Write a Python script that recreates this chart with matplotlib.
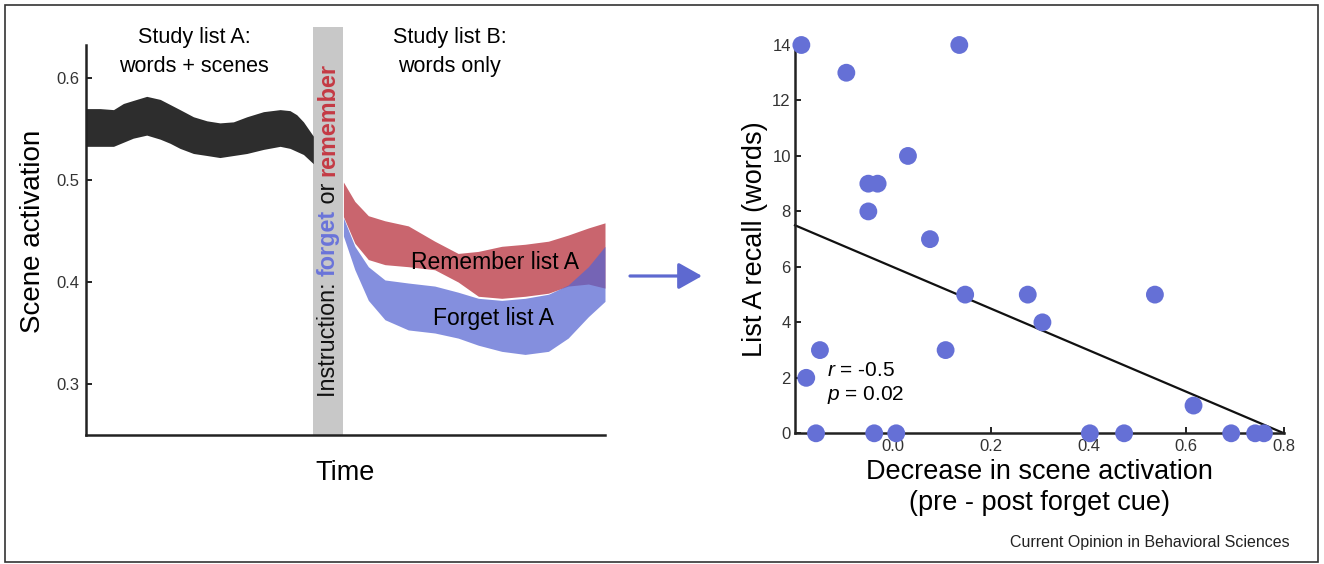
import matplotlib
matplotlib.use("Agg")
import matplotlib.pyplot as plt
from matplotlib.patches import Rectangle, FancyArrowPatch

plt.rcParams['font.family'] = ['Liberation Sans', 'DejaVu Sans']
plt.rcParams['mathtext.fontset'] = 'custom'
plt.rcParams['mathtext.it'] = 'Liberation Sans:italic'
plt.rcParams['mathtext.rm'] = 'Liberation Sans'

# ---------------- data: left panel (scene activation over time) ----------------
black_t = [0, 2.7, 5.3, 7.2, 9.1, 11.7, 14.3, 16.2, 18.1, 20.7, 23.3, 25.8, 28.4,
           31.0, 34.2, 37.4, 39.3, 40.6, 41.9, 43.8]
black_upper = [0.570, 0.570, 0.569, 0.575, 0.578, 0.582, 0.579, 0.574, 0.569, 0.562,
               0.558, 0.556, 0.557, 0.562, 0.567, 0.569, 0.568, 0.564, 0.557, 0.543]
black_lower = [0.533, 0.533, 0.533, 0.537, 0.541, 0.544, 0.540, 0.536, 0.531, 0.526,
               0.524, 0.522, 0.524, 0.526, 0.530, 0.533, 0.531, 0.528, 0.525, 0.516]

post_t = [49.6, 51.8, 54.4, 57.6, 62.1, 67.2, 71.7, 75.6, 80.1, 84.6, 89.1, 92.9, 96.8, 100]
remember_upper = [0.498, 0.479, 0.465, 0.460, 0.455, 0.440, 0.428, 0.430, 0.435, 0.437,
                  0.440, 0.446, 0.453, 0.458]
remember_lower = [0.464, 0.438, 0.422, 0.417, 0.415, 0.412, 0.400, 0.386, 0.384, 0.386,
                  0.389, 0.396, 0.398, 0.394]
forget_upper = [0.463, 0.435, 0.415, 0.402, 0.399, 0.396, 0.390, 0.384, 0.382, 0.384,
                0.388, 0.397, 0.415, 0.435]
forget_lower = [0.445, 0.412, 0.382, 0.363, 0.353, 0.350, 0.345, 0.338, 0.332, 0.329,
                0.332, 0.345, 0.366, 0.381]

instruction_span = [43.8, 49.6]
left_yticks = [0.3, 0.4, 0.5, 0.6]
left_yticklabels = ['0.3', '0.4', '0.5', '0.6']

# ---------------- data: right panel (scatter) ----------------
decrease = [-0.187, 0.136, -0.095, 0.031, -0.050, -0.031, -0.050, 0.076, 0.148, 0.276,
            0.536, 0.306, -0.149, 0.108, -0.177, 0.615, -0.157, -0.038, 0.007, 0.403,
            0.473, 0.692, 0.741, 0.759]
recall = [14, 14, 13, 10, 9, 9, 8, 7, 5, 5, 5, 4, 3, 3, 2, 1, 0, 0, 0, 0, 0, 0, 0, 0]
fit_x = [-0.2, 0.8]
fit_y = [7.5, 0.0]
right_xticks = [0.0, 0.2, 0.4, 0.6, 0.8]
right_xticklabels = ['0.0', '0.2', '0.4', '0.6', '0.8']
right_yticks = [0, 2, 4, 6, 8, 10, 12, 14]
right_yticklabels = ['0', '2', '4', '6', '8', '10', '12', '14']
stats_text = [r'$\mathit{r}$ = -0.5', r'$\mathit{p}$ = 0.02']

# ---------------- styling ----------------
W, H = 1324, 564
BLACK_BAND = '#2d2d2d'
RED_BAND = '#c9656e'
BLUE_BAND = '#5564d2'
RED_TEXT = '#c43a44'
BLUE_TEXT = '#6a74da'
DOT = '#6570d6'
ARROW = '#5e69d0'
GRAY = '#c8c8c8'
TICKC = '#333333'

fig = plt.figure(figsize=(W / 100, H / 100), dpi=100)
fig.patch.set_facecolor('white')

def fx(px):
    return px / W

def fy(py):
    return 1 - py / H

# ---------------- left panel ----------------
ax = fig.add_axes([fx(86), fy(435), fx(605) - fx(86), fy(27) - fy(435)])
ax.set_xlim(0, 100)
ax.set_ylim(0.25, 0.65)
for s in ['top', 'right']:
    ax.spines[s].set_visible(False)
ax.spines['left'].set_bounds(0.25, 0.632)
for s in ['left', 'bottom']:
    ax.spines[s].set_linewidth(1.8)
    ax.spines[s].set_color('#222222')
ax.set_xticks([])
ax.set_yticks(left_yticks)
ax.set_yticklabels(left_yticklabels)
ax.tick_params(axis='y', direction='in', length=4, width=1.4, pad=5,
               labelsize=12, labelcolor=TICKC, color='#222222')

ax.axvspan(instruction_span[0], instruction_span[1], ymin=0, ymax=1,
           color=GRAY, lw=0, zorder=1)
ax.fill_between(black_t, black_lower, black_upper, color=BLACK_BAND, lw=0, zorder=2)
ax.fill_between(post_t, remember_lower, remember_upper, color=RED_BAND, lw=0, zorder=2)
ax.fill_between(post_t, forget_lower, forget_upper, color=BLUE_BAND, alpha=0.72,
                lw=0, zorder=3)

ax.set_ylabel('Scene activation', fontsize=20)
ax.yaxis.set_label_coords(-0.077, 0.5)
ax.set_xlabel('Time', fontsize=19.5, labelpad=18)

ax.text(20.8, 0.6395, 'Study list A:', ha='center', va='center', fontsize=15.5)
ax.text(20.8, 0.6113, 'words + scenes', ha='center', va='center', fontsize=15.5)
ax.text(70.1, 0.6395, 'Study list B:', ha='center', va='center', fontsize=15.5)
ax.text(70.1, 0.6113, 'words only', ha='center', va='center', fontsize=15.5)

ax.text(78.9, 0.4196, 'Remember list A', ha='center', va='center', fontsize=16.5, zorder=5)
ax.text(78.5, 0.364, 'Forget list A', ha='center', va='center', fontsize=16.5, zorder=5)

# multicolour vertical instruction text
xc = sum(instruction_span) / 2
fs_i = 16.8
t1 = ax.text(xc, 0.2875, 'Instruction: ', rotation=90, ha='center', va='bottom',
             fontsize=fs_i, color='#111111', zorder=5)
t2 = ax.annotate('forget', xy=(0.5, 1), xycoords=t1, rotation=90, ha='center',
                 va='bottom', fontsize=fs_i, fontweight='bold', color=BLUE_TEXT, zorder=5)
t3 = ax.annotate(' or ', xy=(0.5, 1), xycoords=t2, rotation=90, ha='center',
                 va='bottom', fontsize=fs_i, color='#111111', zorder=5)
t4 = ax.annotate('remember', xy=(0.5, 1), xycoords=t3, rotation=90, ha='center',
                 va='bottom', fontsize=fs_i, fontweight='bold', color=RED_TEXT, zorder=5)

# ---------------- arrow between panels ----------------
fig.add_artist(FancyArrowPatch(
    (fx(630), fy(276)), (fx(702), fy(276)), transform=fig.transFigure,
    arrowstyle='-|>,head_length=0.8,head_width=0.45', mutation_scale=18,
    color=ARROW, lw=2.3, shrinkA=0, shrinkB=0))

# ---------------- right panel ----------------
ax2 = fig.add_axes([fx(795), fy(433.3), fx(1284) - fx(795), fy(45) - fy(433.3)])
ax2.set_xlim(-0.2, 0.8)
ax2.set_ylim(0, 14)
for s in ['top', 'right']:
    ax2.spines[s].set_visible(False)
for s in ['left', 'bottom']:
    ax2.spines[s].set_linewidth(1.8)
    ax2.spines[s].set_color('#222222')
ax2.set_xticks(right_xticks)
ax2.set_xticklabels(right_xticklabels)
ax2.set_yticks(right_yticks)
ax2.set_yticklabels(right_yticklabels)
ax2.tick_params(direction='in', length=4, width=1.4, labelsize=12,
                labelcolor=TICKC, color='#222222')
ax2.tick_params(axis='y', pad=3)
ax2.tick_params(axis='x', pad=4)

ax2.plot(fit_x, fit_y, color='#111111', lw=1.6, zorder=2, clip_on=False)
ax2.scatter(decrease, recall, s=165, color=DOT, edgecolors='none', zorder=3, clip_on=False)

ax2.text(-0.134, 2.28, stats_text[0], fontsize=15, ha='left', va='center')
ax2.text(-0.134, 1.37, stats_text[1], fontsize=15, ha='left', va='center')

ax2.set_ylabel('List A recall (words)', fontsize=19.5)
ax2.yaxis.set_label_coords(-0.055, 0.5)
ax2.set_xlabel('Decrease in scene activation\n(pre - post forget cue)', fontsize=19.5,
               labelpad=4, linespacing=1.25)

fig.text(fx(1290), fy(542), 'Current Opinion in Behavioral Sciences', ha='right',
         va='center', fontsize=11.5, color='#222222')

# frame around the whole figure
fig.add_artist(Rectangle((fx(5), fy(561.5)), fx(1318) - fx(5), fy(4.5) - fy(561.5),
                         transform=fig.transFigure, fill=False, lw=1.2, ec='#333333'))

fig.savefig('out.png', dpi=100, facecolor='white')
